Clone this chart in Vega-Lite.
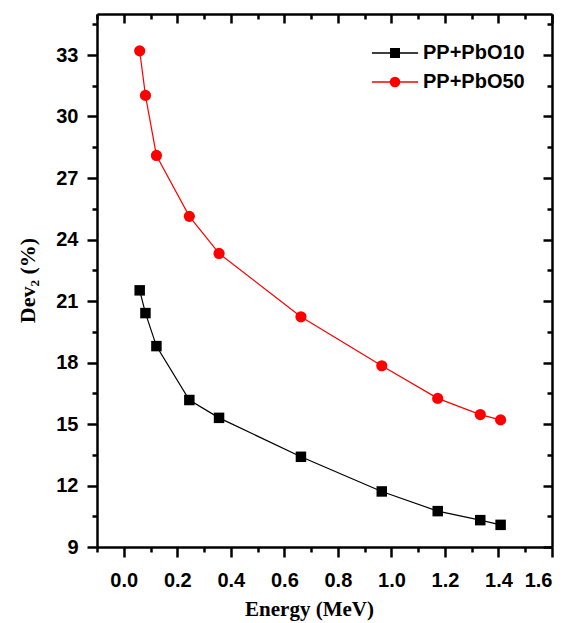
{
  "$schema": "https://vega.github.io/schema/vega-lite/v6.json",
  "width": 455,
  "height": 533,
  "autosize": {"type": "none"},
  "padding": {"left": 97, "top": 14, "right": 16, "bottom": 76},
  "background": "white",
  "config": {
    "view": {"stroke": null},
    "axis": {
      "grid": false,
      "domainColor": "black",
      "domainWidth": 2.5,
      "tickColor": "black",
      "tickWidth": 2.5,
      "labelFont": "Liberation Sans",
      "labelFontWeight": "bold",
      "labelFontSize": 20,
      "labelColor": "black",
      "titleFont": "Liberation Serif",
      "titleFontWeight": "bold",
      "titleColor": "black"
    }
  },
  "data": {
    "values": [
      {"series": "PP+PbO10", "energy": 0.0595, "dev": 21.52},
      {"series": "PP+PbO10", "energy": 0.081, "dev": 20.41},
      {"series": "PP+PbO10", "energy": 0.122, "dev": 18.8},
      {"series": "PP+PbO10", "energy": 0.245, "dev": 16.17},
      {"series": "PP+PbO10", "energy": 0.356, "dev": 15.3},
      {"series": "PP+PbO10", "energy": 0.662, "dev": 13.4},
      {"series": "PP+PbO10", "energy": 0.964, "dev": 11.71},
      {"series": "PP+PbO10", "energy": 1.173, "dev": 10.75},
      {"series": "PP+PbO10", "energy": 1.332, "dev": 10.31},
      {"series": "PP+PbO10", "energy": 1.408, "dev": 10.08},
      {"series": "PP+PbO50", "energy": 0.0595, "dev": 33.2},
      {"series": "PP+PbO50", "energy": 0.081, "dev": 31.03},
      {"series": "PP+PbO50", "energy": 0.122, "dev": 28.1},
      {"series": "PP+PbO50", "energy": 0.245, "dev": 25.13},
      {"series": "PP+PbO50", "energy": 0.356, "dev": 23.32},
      {"series": "PP+PbO50", "energy": 0.662, "dev": 20.23},
      {"series": "PP+PbO50", "energy": 0.964, "dev": 17.84},
      {"series": "PP+PbO50", "energy": 1.173, "dev": 16.25},
      {"series": "PP+PbO50", "energy": 1.332, "dev": 15.46},
      {"series": "PP+PbO50", "energy": 1.408, "dev": 15.2}
    ]
  },
  "layer": [
    {
      "transform": [{"filter": "datum.series == 'PP+PbO10'"}],
      "mark": {"type": "line", "strokeWidth": 1.2, "color": "black"},
      "encoding": {
        "x": {
          "field": "energy", "type": "quantitative",
          "scale": {"domain": [-0.1, 1.6], "nice": false, "zero": false},
          "axis": {
            "orient": "bottom", "values": [0, 0.2, 0.4, 0.6, 0.8, 1.0, 1.2, 1.4, 1.6],
            "format": ".1f", "tickSize": 10, "labelPadding": 13,
            "title": "Energy (MeV)", "titleFontSize": 21,
            "titleX": 212, "titleY": 68, "titleBaseline": "alphabetic", "titleAlign": "center"
          }
        },
        "y": {
          "field": "dev", "type": "quantitative",
          "scale": {"domain": [9, 35], "nice": false, "zero": false},
          "axis": {
            "orient": "left", "values": [9, 12, 15, 18, 21, 24, 27, 30, 33],
            "format": "d", "tickSize": 10, "labelPadding": 9,
            "title": "Dev₂ (%)", "titleFontSize": 22,
            "titleX": -70, "titleY": 266, "titleBaseline": "middle", "titleAlign": "center", "titleAngle": -90
          }
        }
      }
    },
    {
      "transform": [{"filter": "datum.series == 'PP+PbO50'"}],
      "mark": {"type": "line", "strokeWidth": 1.2, "color": "red"},
      "encoding": {
        "x": {
          "field": "energy", "type": "quantitative",
          "axis": {
            "orient": "bottom", "values": [-0.1, 0.1, 0.3, 0.5, 0.7, 0.9, 1.1, 1.3, 1.5],
            "labels": false, "domain": false, "tickSize": 5, "title": null
          }
        },
        "y": {
          "field": "dev", "type": "quantitative",
          "axis": {
            "orient": "left", "values": [10.5, 13.5, 16.5, 19.5, 22.5, 25.5, 28.5, 31.5, 34.5],
            "labels": false, "domain": false, "tickSize": 5, "title": null
          }
        }
      }
    },
    {
      "transform": [{"filter": "datum.series == 'PP+PbO10'"}],
      "mark": {"type": "point", "shape": "square", "filled": true, "opacity": 1, "size": 110, "color": "black"},
      "encoding": {
        "x": {
          "field": "energy", "type": "quantitative",
          "axis": {
            "orient": "top", "values": [0, 0.2, 0.4, 0.6, 0.8, 1.0, 1.2, 1.4, 1.6],
            "labels": false, "tickSize": -9, "title": null
          }
        },
        "y": {
          "field": "dev", "type": "quantitative",
          "axis": {
            "orient": "right", "values": [9, 12, 15, 18, 21, 24, 27, 30, 33],
            "labels": false, "tickSize": -9, "title": null
          }
        }
      }
    },
    {
      "transform": [{"filter": "datum.series == 'PP+PbO50'"}],
      "mark": {"type": "point", "shape": "circle", "filled": true, "opacity": 1, "size": 125, "color": "red"},
      "encoding": {
        "x": {
          "field": "energy", "type": "quantitative",
          "axis": {
            "orient": "top", "values": [-0.1, 0.1, 0.3, 0.5, 0.7, 0.9, 1.1, 1.3, 1.5],
            "labels": false, "domain": false, "tickSize": -5, "title": null
          }
        },
        "y": {
          "field": "dev", "type": "quantitative",
          "axis": {
            "orient": "right", "values": [10.5, 13.5, 16.5, 19.5, 22.5, 25.5, 28.5, 31.5, 34.5],
            "labels": false, "domain": false, "tickSize": -5, "title": null
          }
        }
      }
    },
    {
      "mark": {"type": "point", "filled": true, "opacity": 0},
      "encoding": {
        "x": {"field": "energy", "type": "quantitative", "axis": null},
        "y": {"field": "dev", "type": "quantitative", "axis": null},
        "fill": {
          "field": "series", "type": "nominal",
          "scale": {"domain": ["PP+PbO10", "PP+PbO50"], "range": ["black", "red"]},
          "legend": {
            "title": null,
            "orient": "none",
            "legendX": 288,
            "legendY": 29,
            "padding": 0,
            "symbolSize": 196,
            "symbolStrokeWidth": 1.5,
            "symbolOpacity": 1,
            "labelOffset": 18,
            "rowPadding": 9,
            "labelFont": "Liberation Sans",
            "labelFontWeight": "bold",
            "labelFontSize": 20,
            "labelColor": "black"
          }
        },
        "stroke": {
          "field": "series", "type": "nominal",
          "scale": {"domain": ["PP+PbO10", "PP+PbO50"], "range": ["black", "red"]}
        },
        "shape": {
          "field": "series", "type": "nominal",
          "scale": {
            "domain": ["PP+PbO10", "PP+PbO50"],
            "range": [
              "M-3.3,0H3.3M-0.607,-0.607H0.607V0.607H-0.607ZM-0.429,-0.429H0.429V0.429H-0.429ZM-0.25,-0.25H0.25V0.25H-0.25ZM-0.071,-0.071H0.071V0.071H-0.071Z",
              "M-3.3,0H3.3M0.65,0A0.65,0.65,0,1,1,-0.65,0A0.65,0.65,0,1,1,0.65,0ZM0.471,0A0.471,0.471,0,1,1,-0.471,0A0.471,0.471,0,1,1,0.471,0ZM0.293,0A0.293,0.293,0,1,1,-0.293,0A0.293,0.293,0,1,1,0.293,0ZM0.114,0A0.114,0.114,0,1,1,-0.114,0A0.114,0.114,0,1,1,0.114,0Z"
            ]
          }
        }
      }
    }
  ],
  "resolve": {"axis": {"x": "independent", "y": "independent"}}
}
